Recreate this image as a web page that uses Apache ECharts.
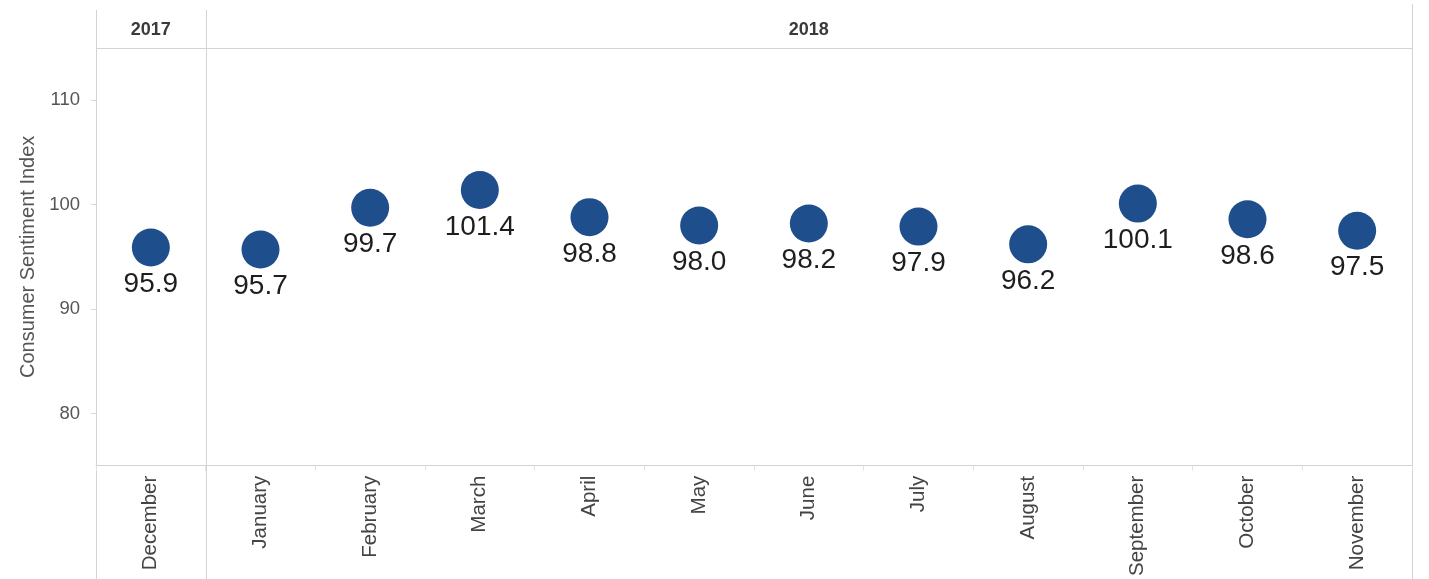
<!DOCTYPE html>
<html>
<head>
<meta charset="utf-8">
<script src="https://cdn.jsdelivr.net/npm/echarts@6/dist/echarts.min.js"></script>
<style>
html,body{margin:0;padding:0;background:#fff;}
#c{width:1429px;height:579px;}
</style>
</head>
<body>
<div id="c"></div>
<script>
const months = ['December','January','February','March','April','May','June','July','August','September','October','November'];
const values = [95.9, 95.7, 99.7, 101.4, 98.8, 98.0, 98.2, 97.9, 96.2, 100.1, 98.6, 97.5];
const years = ['2017', '2018'];
const yearSpans = [1, 11];
const yTicks = [80, 90, 100, 110];
const yMin = 75, yMax = 115;

const chart = echarts.init(document.getElementById('c'), null, {renderer: 'canvas'});
const FONT = '"Liberation Sans", Arial, sans-serif';
const LINE = '#d3d3d3';

chart.setOption({
  backgroundColor: '#fff',
  animation: false,
  grid: {left: 96, right: 17, top: 48, bottom: 112, show: false},
  xAxis: {
    type: 'category',
    data: months,
    boundaryGap: true,
    axisLine: {show: true, lineStyle: {color: LINE, width: 1}},
    axisTick: {show: true, length: 5, lineStyle: {color: '#e2e2e2'}},
    axisLabel: {rotate: 90, fontSize: 20.5, color: '#444', fontFamily: FONT, margin: 10, interval: 0}
  },
  yAxis: {
    type: 'value',
    min: yMin, max: yMax,
    name: 'Consumer Sentiment Index',
    nameLocation: 'middle',
    nameRotate: 90,
    nameGap: 57,
    nameTextStyle: {fontSize: 20, color: '#555', fontFamily: FONT},
    axisLine: {show: true, lineStyle: {color: LINE, width: 1}},
    axisTick: {show: true, length: 5, customValues: yTicks, lineStyle: {color: '#d8d8d8'}},
    axisLabel: {fontSize: 18.5, color: '#555', fontFamily: FONT, margin: 16, customValues: yTicks},
    splitLine: {show: false}
  },
  series: [{
    type: 'scatter',
    data: values,
    symbol: 'circle',
    symbolSize: 38,
    itemStyle: {color: '#1f4e8c', opacity: 1},
    label: {
      show: true,
      position: 'bottom',
      distance: 4,
      fontSize: 28,
      color: '#1e1e1e',
      fontFamily: FONT,
      formatter: p => p.value.toFixed(1)
    }
  }]
});

function drawFrame() {
  const centers = months.map((m, i) => chart.convertToPixel({xAxisIndex: 0}, m));
  const step = centers.length > 1 ? centers[1] - centers[0] : 100;
  const left = centers[0] - step / 2;
  const right = centers[centers.length - 1] + step / 2;
  const headerTop = 10;
  const headerBottom = chart.convertToPixel({yAxisIndex: 0}, yMax);
  const bottom = 579;
  const elems = [];
  const bounds = [left];
  let idx = 0;
  yearSpans.forEach(s => { idx += s; bounds.push(left + idx * step); });
  bounds.forEach((x, i) => {
    const xr = Math.round(x) + 0.5;
    elems.push({type: 'line', shape: {x1: xr, y1: i === bounds.length - 1 ? 4 : headerTop, x2: xr, y2: bottom},
      style: {stroke: LINE, lineWidth: 1}, silent: true});
  });
  elems.push({type: 'line', shape: {x1: left, y1: Math.round(headerBottom) + 0.5, x2: right, y2: Math.round(headerBottom) + 0.5},
    style: {stroke: LINE, lineWidth: 1}, silent: true});
  years.forEach((y, i) => {
    elems.push({type: 'text', x: (bounds[i] + bounds[i + 1]) / 2, y: (headerTop + headerBottom) / 2 + 1,
      style: {text: y, fill: '#3a3a3a', font: 'bold 18px ' + FONT, align: 'center', verticalAlign: 'middle'}, silent: true});
  });
  chart.setOption({graphic: {elements: elems}});
}
drawFrame();
</script>
</body>
</html>
